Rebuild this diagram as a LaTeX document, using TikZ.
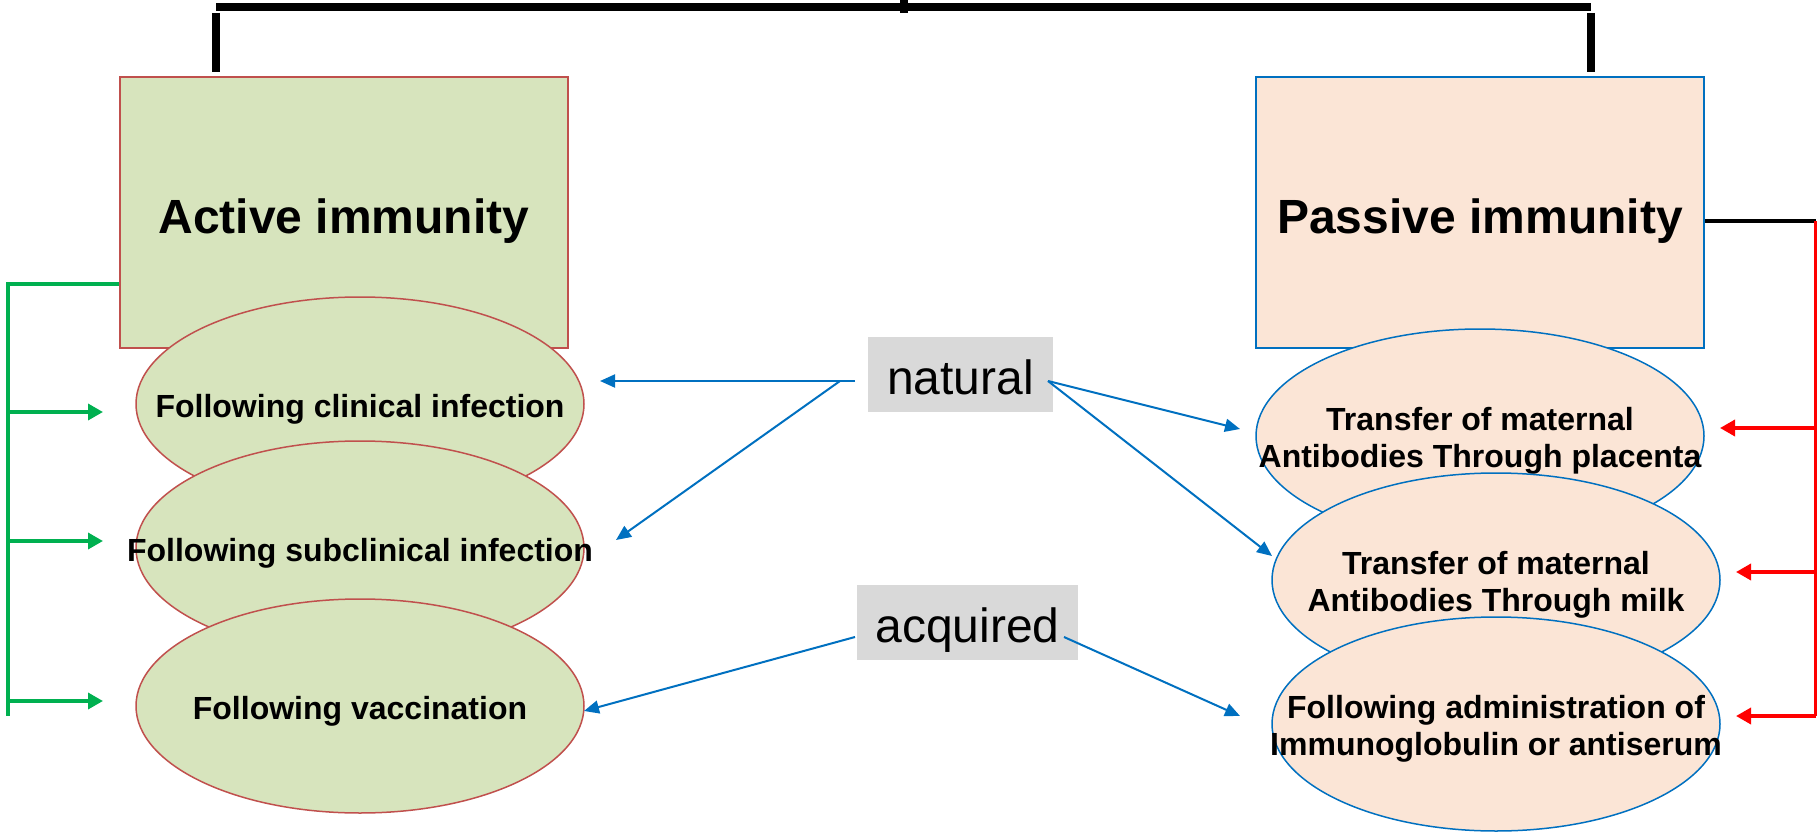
\documentclass[tikz,border=0pt]{standalone}
\usepackage{fontspec}
\setmainfont{Liberation Sans}
\usetikzlibrary{shapes.geometric,arrows.meta}
\definecolor{agreen}{HTML}{D7E4BD}
\definecolor{ared}{HTML}{C0504D}
\definecolor{ppeach}{HTML}{FBE5D6}
\definecolor{pblue}{HTML}{0070C0}
\definecolor{lgray}{HTML}{D9D9D9}
\definecolor{lgreen}{HTML}{00B050}
\tikzset{
  bigbox/.style={draw, line width=1.5pt, minimum width=448pt, minimum height=271pt, inner sep=0pt,
    text height=41pt, text depth=0pt, font=\fontsize{48}{56}\selectfont\bfseries},
  activebox/.style={bigbox, fill=agreen, draw=ared},
  passivebox/.style={bigbox, fill=ppeach, draw=pblue},
  ell/.style={ellipse, line width=1.5pt, minimum width=448pt, minimum height=214pt, inner sep=0pt},
  aell/.style={ell, fill=agreen, draw=ared},
  pell/.style={ell, fill=ppeach, draw=pblue},
  elltext/.style={inner sep=0pt, align=center, font=\fontsize{32}{37}\selectfont\bfseries},
  lab/.style={fill=lgray, inner sep=0pt, text height=40pt, text depth=0pt, font=\fontsize{48}{56}\selectfont},
  blarrow/.style={draw=pblue, line width=2pt, -{Triangle[length=15pt,width=13pt]}},
  grarrow/.style={draw=lgreen, line width=3.5pt, -{Triangle[length=15pt,width=16pt]}},
  rdarrow/.style={draw=red, line width=3.5pt, -{Triangle[length=15pt,width=16pt]}},
  grline/.style={draw=lgreen, line width=3.5pt},
  rdline/.style={draw=red, line width=3.5pt},
  topline/.style={draw=black, line width=8pt},
}
\begin{document}
\begin{tikzpicture}[x=1pt,y=-1pt]
\useasboundingbox (0,0) rectangle (1820,832);
% top bracket
\coordinate (tl) at (216,7);
\coordinate (tr) at (1591,7);
\coordinate (tm) at (904,0);
\coordinate (tmb) at (904,13);
\coordinate (tld) at (216,72);
\coordinate (trd) at (1591,72);
\coordinate (tlu) at (216,13);
\coordinate (tru) at (1591,13);
\draw[topline] (tl) -- (tr);
\draw[topline] (tm) -- (tmb);
\draw[topline] (tlu) -- (tld);
\draw[topline] (tru) -- (trd);

% boxes
\node[activebox] (active) at (344,212.5) {Active immunity};
\node[passivebox] (passive) at (1480,212.5) {Passive immunity};

% ellipses
\node[aell] (a1) at (360,404) {};
\node[elltext] (a1t) at ([yshift=-5pt]a1.center) {Following clinical infection};
\node[aell] (a2) at (360,548) {};
\node[elltext] (a2t) at ([yshift=-5pt]a2.center) {Following subclinical infection};
\node[aell] (a3) at (360,706) {};
\node[elltext] (a3t) at ([yshift=-5pt]a3.center) {Following vaccination};
\node[pell] (p1) at (1480,436) {};
\node[elltext] (p1t) at ([yshift=-5pt]p1.center) {Transfer of maternal\\Antibodies Through placenta};
\node[pell] (p2) at (1496,580) {};
\node[elltext] (p2t) at ([yshift=-5pt]p2.center) {Transfer of maternal\\Antibodies Through milk};
\node[pell] (p3) at (1496,724) {};
\node[elltext] (p3t) at ([yshift=-5pt]p3.center) {Following administration of\\Immunoglobulin or antiserum};

% labels
\node[lab, minimum width=185pt, minimum height=75pt] (nat) at (960.5,374.5) {natural};
\node[lab, minimum width=221pt, minimum height=75pt] (acq) at (967.5,622.5) {acquired};

% blue connectors
\coordinate (n1) at (855,381);
\coordinate (n2) at (840,381);
\coordinate (n3) at (1048,381);
\coordinate (q1) at (855,637);
\coordinate (q2) at (1064,637);
\coordinate (e1) at (600,381);
\coordinate (e2) at (616,540);
\coordinate (e3) at (1240,429);
\coordinate (e4) at (1272,556);
\coordinate (e5) at (584,711);
\coordinate (e6) at (1240,716);
\draw[blarrow] (n1) -- (e1);
\draw[blarrow] (n2) -- (e2);
\draw[blarrow] (n3) -- (e3);
\draw[blarrow] (n3) -- (e4);
\draw[blarrow] (q1) -- (e5);
\draw[blarrow] (q2) -- (e6);

% green bracket
\coordinate (g0) at (8,284);
\coordinate (g1) at (8,412);
\coordinate (g2) at (8,541);
\coordinate (g3) at (8,701);
\coordinate (gb) at (8,716);
\coordinate (ga1) at (103,412);
\coordinate (ga2) at (103,541);
\coordinate (ga3) at (103,701);
\draw[grline] (active.west |- g0) -- (g0) -- (gb);
\draw[grarrow] (g1) -- (ga1);
\draw[grarrow] (g2) -- (ga2);
\draw[grarrow] (g3) -- (ga3);

% red bracket
\coordinate (r0) at (1815.5,221);
\coordinate (r1) at (1815.5,428);
\coordinate (r2) at (1815.5,572);
\coordinate (r3) at (1815.5,716);
\coordinate (ra1) at (1720,428);
\coordinate (ra2) at (1736,572);
\coordinate (ra3) at (1736,716);
\draw[draw=black, line width=3.5pt] (passive.east |- r0) -- (r0);
\draw[rdline] (r0) -- (r3);
\draw[rdarrow] (r1) -- (ra1);
\draw[rdarrow] (r2) -- (ra2);
\draw[rdarrow] (r3) -- (ra3);
\end{tikzpicture}
\end{document}
